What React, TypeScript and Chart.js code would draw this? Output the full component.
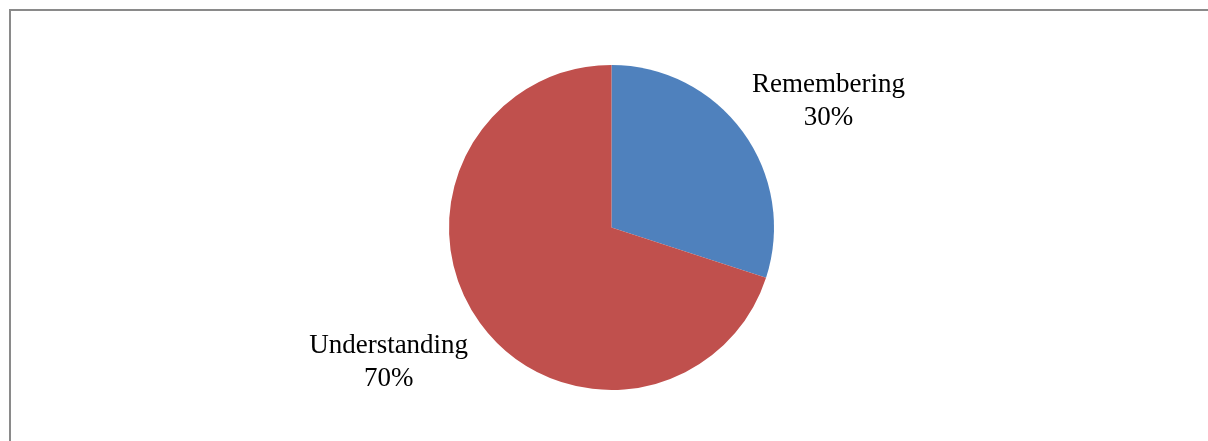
import React, { useEffect, useRef } from "react";
import { Chart, registerables } from "chart.js";

Chart.register(...registerables);

const categories = ["Remembering", "Understanding"];
const values = [30, 70];
const percentLabels = ["30%", "70%"];
const colors = ["#4F81BD", "#C0504D"];
// label placement: extra angle (degrees) and distance in radius multiples
const labelAngleShift = [5.8, 5];
const labelDistance = [1.545, 1.6];

const labelPlugin = {
  id: "outsideLabels",
  afterDatasetsDraw(chart: any) {
    const ctx = chart.ctx;
    const meta = chart.getDatasetMeta(0);
    ctx.save();
    ctx.fillStyle = "#000000";
    ctx.font = "27px 'Liberation Serif'";
    ctx.textAlign = "center";
    ctx.textBaseline = "middle";
    meta.data.forEach((arc: any, i: number) => {
      const { x, y, startAngle, endAngle, outerRadius } = arc.getProps(
        ["x", "y", "startAngle", "endAngle", "outerRadius"],
        true
      );
      const mid = (startAngle + endAngle) / 2 + (labelAngleShift[i] * Math.PI) / 180;
      const d = outerRadius * labelDistance[i];
      const cx = x + Math.cos(mid) * d;
      const cy = y + Math.sin(mid) * d;
      ctx.fillText(categories[i], cx, cy - 16);
      ctx.fillText(percentLabels[i], cx, cy + 17);
    });
    ctx.restore();
  },
};

export default function App() {
  const ref = useRef<HTMLCanvasElement | null>(null);
  useEffect(() => {
    document.body.style.overflow = "hidden";
    if (!ref.current) return;
    const chart = new Chart(ref.current, {
      type: "pie",
      data: {
        labels: categories,
        datasets: [
          {
            data: values,
            backgroundColor: colors,
            borderWidth: 0,
          },
        ],
      },
      options: {
        animation: false,
        responsive: false,
        maintainAspectRatio: false,
        layout: { padding: { left: 15, right: 0, top: 65, bottom: 51 } },
        plugins: {
          legend: { display: false },
          tooltip: { enabled: false },
        },
      },
      plugins: [labelPlugin],
    });
    return () => chart.destroy();
  }, []);
  return (
    <div>
      <div
        style={{
          position: "fixed",
          left: 9,
          top: 9,
          width: 1199,
          height: 432,
          boxSizing: "border-box",
          borderLeft: "2px solid #8a8a8a",
          borderTop: "2px solid #8a8a8a",
          background: "#ffffff",
        }}
      />
      <canvas
        ref={ref}
        width={1208}
        height={441}
        style={{ position: "fixed", left: 0, top: 0, width: 1208, height: 441 }}
      />
    </div>
  );
}
